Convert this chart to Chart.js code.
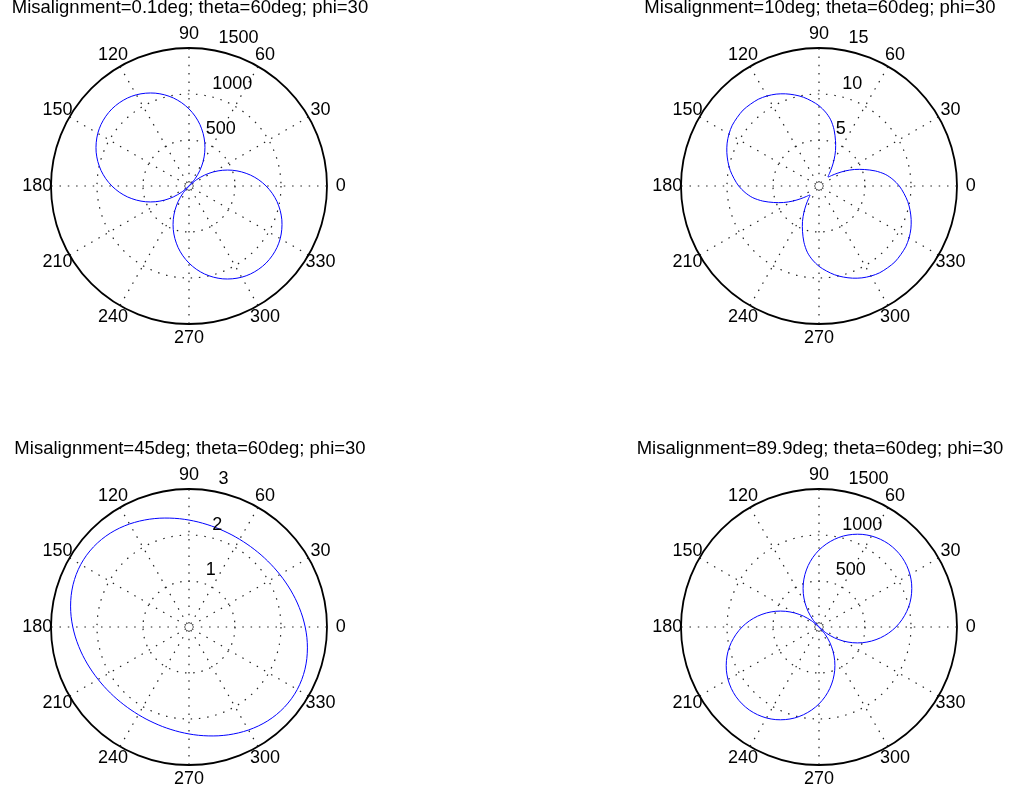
<!DOCTYPE html>
<html><head><meta charset="utf-8">
<script src="https://cdn.jsdelivr.net/npm/chart.js@4.4.1/dist/chart.umd.min.js"></script>
<style>
html,body{margin:0;padding:0;background:#fff;width:1016px;height:793px;overflow:hidden;}
.p{position:absolute;}
</style></head><body>
<div class="p" style="left:0px;top:0px"><canvas id="c1" width="384" height="358"></canvas></div>
<div class="p" style="left:630px;top:0px"><canvas id="c2" width="384" height="358"></canvas></div>
<div class="p" style="left:0px;top:441px"><canvas id="c3" width="384" height="358"></canvas></div>
<div class="p" style="left:630px;top:441px"><canvas id="c4" width="384" height="358"></canvas></div>
<script>
// polar angle of each sample (degrees, counter-clockwise from the right)
const thetaDeg = [0,5,10,15,20,25,30,35,40,45,50,55,60,65,70,75,80,85,90,95,100,105,110,115,120,125,130,135,140,145,150,155,160,165,170,175,
                  180,185,190,195,200,205,210,215,220,225,230,235,240,245,250,255,260,265,270,275,280,285,290,295,300,305,310,315,320,325,330,335,340,345,350,355];
const angleTickLabels = [0,30,60,90,120,150,180,210,240,270,300,330];
const titles = ['Misalignment=0.1deg; theta=60deg; phi=30','Misalignment=10deg; theta=60deg; phi=30','Misalignment=45deg; theta=60deg; phi=30','Misalignment=89.9deg; theta=60deg; phi=30'];
const radialMax = [1500, 15, 3, 1500];
const radialStep = [500, 5, 1, 500];

// radius values, one per thetaDeg entry
const rMis01 = [838,762,680,592,501,405,307,206,103,0,103,206,307,405,501,592,680,762,838,908,971,1026,1074,1113,1145,1167,1180,1185,1180,1167,1145,1113,1074,1026,971,908,
                838,762,680,592,501,405,307,206,103,0,103,206,307,405,501,592,680,762,838,908,971,1026,1074,1113,1145,1167,1180,1185,1180,1167,1145,1113,1074,1026,971,908];
const rMis10 = [8.73,8.07,7.31,6.33,5.24,4.25,3.27,2.40,1.75,1.39,1.75,2.40,3.27,4.25,5.24,6.33,7.31,8.07,8.73,9.27,9.80,10.25,10.66,11.02,11.30,11.51,11.60,11.67,11.60,11.51,11.30,11.02,10.66,10.25,9.80,9.27,
                8.73,8.07,7.31,6.33,5.24,4.25,3.27,2.40,1.75,1.39,1.75,2.40,3.27,4.25,5.24,6.33,7.31,8.07,8.73,9.27,9.80,10.25,10.66,11.02,11.30,11.51,11.60,11.67,11.60,11.51,11.30,11.02,10.66,10.25,9.80,9.27];
const rMis45 = [2.526,2.480,2.434,2.391,2.350,2.313,2.281,2.254,2.232,2.216,2.205,2.200,2.201,2.208,2.220,2.239,2.262,2.291,2.325,2.363,2.404,2.449,2.495,2.541,2.586,2.627,2.663,2.691,2.710,2.719,2.718,2.705,2.683,2.652,2.614,2.572,
                2.526,2.480,2.434,2.391,2.350,2.313,2.281,2.254,2.232,2.216,2.205,2.200,2.201,2.208,2.220,2.239,2.262,2.291,2.325,2.363,2.404,2.449,2.495,2.541,2.586,2.627,2.663,2.691,2.710,2.719,2.718,2.705,2.683,2.652,2.614,2.572];
const rMis899 = [836,905,968,1024,1071,1111,1142,1164,1178,1182,1178,1164,1142,1111,1071,1024,968,905,836,760,678,591,500,404,306,205,103,0,103,205,306,404,500,591,678,760,
                 836,905,968,1024,1071,1111,1142,1164,1178,1182,1178,1164,1142,1111,1071,1024,968,905,836,760,678,591,500,404,306,205,103,0,103,205,306,404,500,591,678,760];

const FONT = '"Liberation Sans", Arial, Helvetica, sans-serif';
const D2R = Math.PI / 180;

function polarText(title, step) {
  return {
    id: 'polarText',
    afterDraw(chart) {
      const s = chart.scales.r, ctx = chart.ctx;
      ctx.save();
      ctx.fillStyle = '#000';
      // angle labels
      ctx.font = '18px ' + FONT;
      ctx.textAlign = 'center';
      ctx.textBaseline = 'middle';
      angleTickLabels.forEach(a => {
        const idx = chart.data.labels.indexOf(String(a));
        const p = s.getPointPosition(idx, s.drawingArea * 1.1);
        ctx.fillText(String(a), p.x, p.y);
      });
      // radial tick labels at 82 degrees
      ctx.textAlign = 'left';
      ctx.textBaseline = 'bottom';
      s.ticks.forEach(t => {
        if (t.value <= 0) return;
        const d = s.getDistanceFromCenterForValue(t.value + step / 20);
        ctx.fillText('  ' + t.value, s.xCenter + d * Math.cos(82 * D2R), s.yCenter - d * Math.sin(82 * D2R));
      });
      // title
      ctx.font = '18.5px ' + FONT;
      ctx.textAlign = 'center';
      ctx.textBaseline = 'alphabetic';
      ctx.fillText(title, s.xCenter + 1, s.yCenter - 172.7);
      ctx.restore();
    }
  };
}

function makePolar(id, title, values, max, step) {
  const n = thetaDeg.length;
  const order = thetaDeg.map((_, i) => (n - i) % n); // clockwise index -> ccw angle
  const labels = order.map(k => String(thetaDeg[k]));
  const data = order.map(k => values[k]);
  new Chart(document.getElementById(id), {
    type: 'radar',
    data: { labels, datasets: [{ data, borderColor: '#0000ff', backgroundColor: 'transparent', borderWidth: 1,
      pointRadius: 0, pointHoverRadius: 0, pointHitRadius: 0, fill: false, tension: 0.3 }] },
    options: {
      responsive: false, animation: false, events: [],
      layout: { padding: { left: 51, right: 57, top: 48, bottom: 34 } },
      plugins: { legend: { display: false }, tooltip: { enabled: false }, title: { display: false } },
      scales: { r: {
        min: 0, max: max, startAngle: 90,
        ticks: { display: false, stepSize: step },
        pointLabels: { display: false },
        grid: { circular: true, color: c => (c.tick && c.tick.value >= max) ? '#000' : '#222',
                lineWidth: c => (c.tick && c.tick.value >= max) ? 1.8 : 1.2 },
        border: { dash: c => (c.tick && c.tick.value >= max) ? [] : [1.5, 6.8], dashOffset: 0 },
        angleLines: { display: true, color: '#222', lineWidth: c => (c.index % 6 === 0 ? 1.2 : 0), borderDash: [1.5, 6.8], borderDashOffset: -3.5 }
      } }
    },
    plugins: [polarText(title, step)]
  });
}

makePolar('c1', titles[0], rMis01, radialMax[0], radialStep[0]);
makePolar('c2', titles[1], rMis10, radialMax[1], radialStep[1]);
makePolar('c3', titles[2], rMis45, radialMax[2], radialStep[2]);
makePolar('c4', titles[3], rMis899, radialMax[3], radialStep[3]);
</script>
</body></html>
